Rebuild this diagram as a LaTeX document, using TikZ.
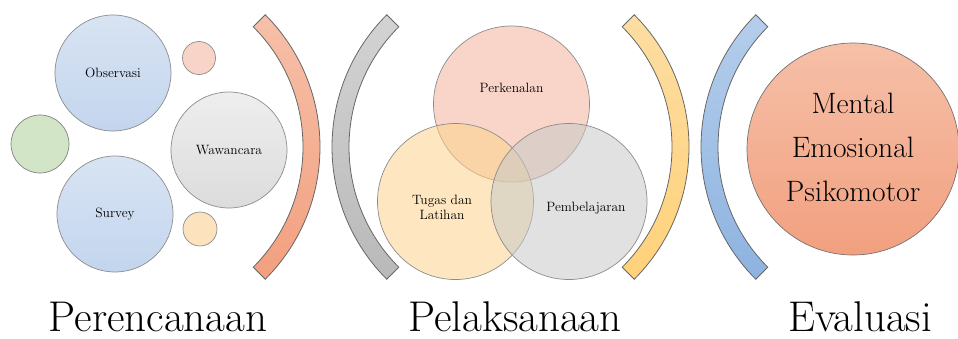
\documentclass[tikz,border=0pt]{standalone}
\usepackage{xcolor}
\definecolor{bluetop}{HTML}{D8E4F3}
\definecolor{bluebot}{HTML}{C3D5EE}
\definecolor{graytop}{HTML}{EEEEEE}
\definecolor{graybot}{HTML}{DCDCDC}
\definecolor{greenfill}{HTML}{D2E5C7}
\definecolor{pinkfill}{HTML}{F8D4C8}
\definecolor{creamfill}{HTML}{FDE3BD}
\definecolor{salmontop}{HTML}{F6C0A8}
\definecolor{salmonbot}{HTML}{F2A07F}
\definecolor{silvertop}{HTML}{D3D3D3}
\definecolor{silverbot}{HTML}{B9B9B9}
\definecolor{goldtop}{HTML}{FDDDA2}
\definecolor{goldbot}{HTML}{FFD27A}
\definecolor{skytop}{HTML}{B5CEEB}
\definecolor{skybot}{HTML}{8DB3E0}
\usepackage{tikz}
\usetikzlibrary{positioning}

\begin{document}
\begin{tikzpicture}[x=1pt,y=1pt,
  bubble/.style={circle,draw=black!45,line width=0.7pt,inner sep=0pt,align=center,font=\fontsize{13.5}{15}\selectfont},
  band/.style={draw=black!60,line width=0.8pt},
  venn/.style={bubble,fill opacity=0.55,text opacity=1},
  phase/.style={anchor=base,inner sep=0pt,text depth=0pt,font=\fontsize{43}{46}\selectfont}]
\useasboundingbox (0,0) rectangle (958,338);

% Perencanaan
\node[bubble,minimum size=116,top color=bluetop,bottom color=bluebot] (obs) at (113,265) {Observasi};
\node[bubble,minimum size=116,top color=bluetop,bottom color=bluebot] (srv) at (115,124) {Survey};
\node[bubble,minimum size=58,fill=greenfill,draw=black!50] (dotg) at (40,194) {};
\node[bubble,minimum size=33,fill=pinkfill] (dotp) at (199,280) {};
\node[bubble,minimum size=116,top color=graytop,bottom color=graybot] (waw) at (229,188) {Wawancara};
\node[bubble,minimum size=34,fill=creamfill] (doty) at (200,109) {};

% kurung
\coordinate (k1) at (133,191);
\coordinate (k2) at (519,191);
\coordinate (k3) at (502,191);
\coordinate (k4) at (888,191);
\draw[band,top color=salmontop,bottom color=salmonbot] (k1) ++(45:187) arc[start angle=45,end angle=-45,radius=187] -- ++(135:17) arc[start angle=-45,end angle=45,radius=170] -- cycle;
\draw[band,top color=silvertop,bottom color=silverbot] (k2) ++(135:187) arc[start angle=135,end angle=225,radius=187] -- ++(45:17) arc[start angle=225,end angle=135,radius=170] -- cycle;
\draw[band,top color=goldtop,bottom color=goldbot] (k3) ++(45:187) arc[start angle=45,end angle=-45,radius=187] -- ++(135:17) arc[start angle=-45,end angle=45,radius=170] -- cycle;
\draw[band,top color=skytop,bottom color=skybot] (k4) ++(135:187) arc[start angle=135,end angle=225,radius=187] -- ++(45:17) arc[start angle=225,end angle=135,radius=170] -- cycle;

% Pelaksanaan
\node[venn,minimum size=156,fill={rgb,255:red,244;green,178;blue,156}] (prk) at (511.5,234) {};
\node[venn,minimum size=156,fill={rgb,255:red,252;green,210;blue,140}] (tgs) at (455.5,136.5) {};
\node[venn,minimum size=156,fill={rgb,255:red,200;green,200;blue,200}] (pmb) at (569,136.5) {};
\node[font=\fontsize{13.5}{15}\selectfont] at (511.5,250) {Perkenalan};
\node[font=\fontsize{13.5}{15}\selectfont,align=center] at (442,131) {Tugas dan\\Latihan};
\node[font=\fontsize{13.5}{15}\selectfont] at (586,130) {Pembelajaran};

% Evaluasi
\node[bubble,minimum size=212,draw=black!55,top color=salmontop,bottom color=salmonbot,font=\fontsize{29.5}{44}\selectfont] (hasil) at (853,189) {};
\node[align=center,font=\fontsize{29.5}{44}\selectfont] at (853,191) {Mental\\Emosional\\Psikomotor};

% judul
\node[phase] (t1) at (158,7) {Perencanaan};
\node[phase] (t2) at (515,7) {Pelaksanaan};
\node[phase] (t3) at (860,7) {Evaluasi};
\end{tikzpicture}
\end{document}
